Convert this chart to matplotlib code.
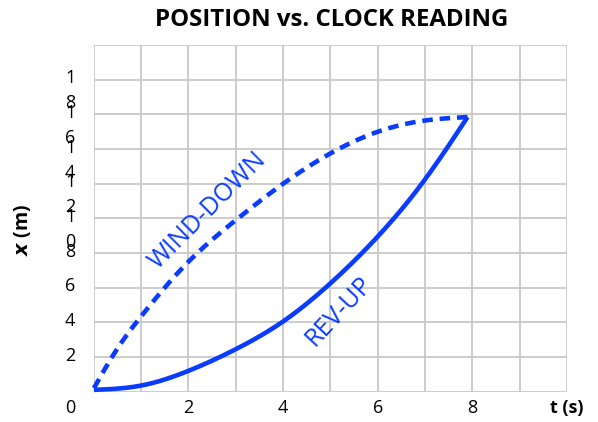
import matplotlib.pyplot as plt
import numpy as np

# data
t_rev = [0, 1, 2, 3, 4, 5, 6, 7, 7.9]
x_rev = [0.1, 0.35, 1.2, 2.45, 4.05, 6.25, 8.95, 12.25, 15.85]

t_wind = [0, 0.5, 1, 2, 3, 4, 5, 6, 7, 7.9]
x_wind = [0.2, 2.5, 4.35, 7.5, 9.9, 12.0, 13.75, 15.0, 15.65, 15.85]

xticks = [2, 4, 6, 8]
yticks = [2, 4, 6, 8, 10, 12, 14, 16, 18]

blue = '#0a3cff'
plt.rcParams['font.family'] = ['Open Sans', 'DejaVu Sans']


def spline(t, x, n=300):
    # natural cubic spline through the read points
    t = np.asarray(t, float); x = np.asarray(x, float)
    m = len(t)
    h = np.diff(t)
    A = np.zeros((m, m)); b = np.zeros(m)
    A[0, 0] = A[-1, -1] = 1
    for i in range(1, m - 1):
        A[i, i-1] = h[i-1]
        A[i, i] = 2 * (h[i-1] + h[i])
        A[i, i+1] = h[i]
        b[i] = 6 * ((x[i+1] - x[i]) / h[i] - (x[i] - x[i-1]) / h[i-1])
    M = np.linalg.solve(A, b)
    tt = np.linspace(t[0], t[-1], n)
    idx = np.clip(np.searchsorted(t, tt, side='right') - 1, 0, m - 2)
    t0, t1 = t[idx], t[idx+1]
    hh = t1 - t0
    a = (t1 - tt) / hh
    c = (tt - t0) / hh
    yy = (a * x[idx] + c * x[idx+1]
          + ((a**3 - a) * M[idx] + (c**3 - c) * M[idx+1]) * hh**2 / 6)
    return tt, yy


fig = plt.figure(figsize=(5.98, 4.22), dpi=100)
ax = fig.add_axes([0.157, 0.072, 0.791, 0.821])

tr, xr = spline(t_rev, x_rev)
tw, xw = spline(t_wind, x_wind)
ax.plot(tr, xr, color=blue, lw=3.3, solid_capstyle='butt', zorder=3, clip_on=False)
ax.plot(tw, xw, color=blue, lw=3.3, dashes=(2.3, 1.5), zorder=3, clip_on=False)

ax.set_xlim(0, 10)
ax.set_ylim(0, 20)
ax.set_xticks(np.arange(0, 11, 1))
ax.set_yticks(np.arange(0, 21, 2))
ax.grid(True, color='#c8c8c8', lw=1.3)
ax.tick_params(length=0, labelbottom=False, labelleft=False)
for s in ax.spines.values():
    s.set_visible(False)

for v in xticks:
    ax.annotate(str(v), (v, 0), xytext=(0, -12), textcoords='offset points',
                ha='center', va='center', fontsize=13)
ax.annotate('0', (0, 0), xytext=(-17, -12), textcoords='offset points',
            ha='center', va='center', fontsize=13)

# two-digit labels wrap onto a second line, as in the original
for v in yticks:
    for j, ch in enumerate(str(v)):
        ax.annotate(ch, (0, v), xytext=(-17, 1 - 18 * j), textcoords='offset points',
                    ha='center', va='center', fontsize=13)

ax.annotate('t (s)', (10, 0), xytext=(0, -12), textcoords='offset points',
            ha='center', va='center', fontsize=13, fontweight='bold')
fig.text(0.038, 0.455, r'$\boldsymbol{x}$ (m)', rotation=90, ha='center', va='center',
         fontsize=14, fontweight='bold')

ax.text(2.4, 10.45, 'WIND-DOWN', color=blue, rotation=45, ha='center', va='center',
        fontsize=18)
ax.text(5.18, 4.66, 'REV-UP', color=blue, rotation=47, ha='center', va='center',
        fontsize=18)

fig.text(0.555, 0.952, 'POSITION vs. CLOCK READING', ha='center', va='center',
         fontsize=17.3, fontweight='bold')

fig.savefig('out.png', dpi=100)
